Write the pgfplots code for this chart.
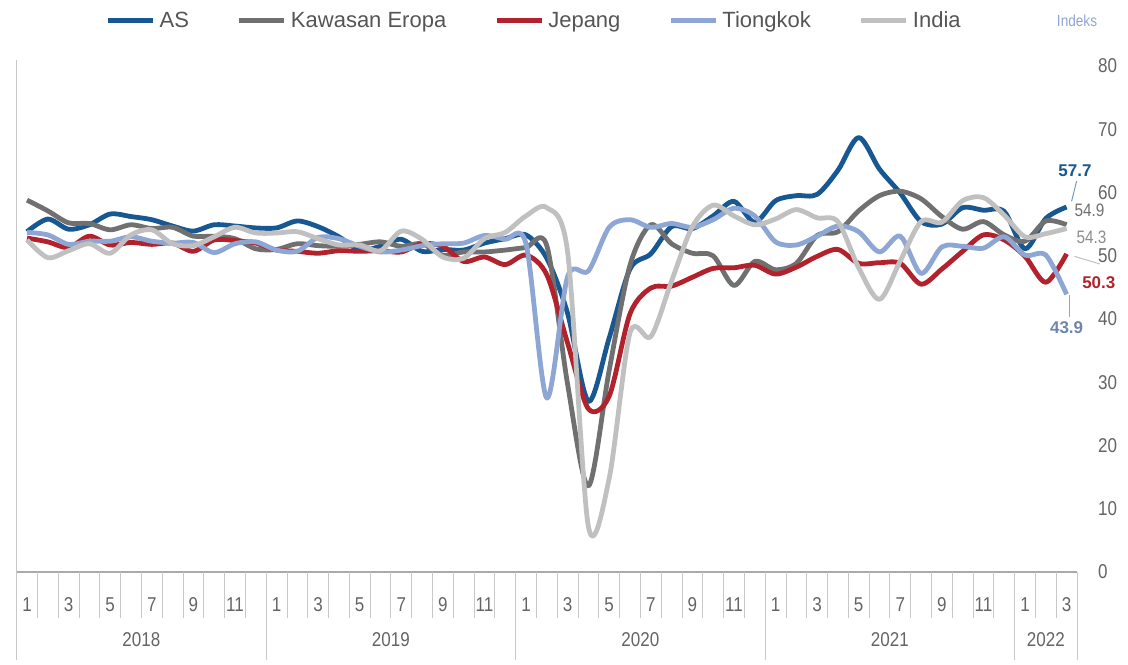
\documentclass[border=0pt]{standalone}
\usepackage{pgfplots}
\usepackage{pgfplotstable}
\pgfplotsset{compat=1.18}
\usepackage{fontspec}
\setmainfont{Liberation Sans}
\newfontfamily\narrowfont[FakeStretch=0.85]{Liberation Sans}
\definecolor{cAS}{RGB}{23,87,146}
\definecolor{cEZ}{RGB}{112,112,112}
\definecolor{cJP}{RGB}{178,34,44}
\definecolor{cCN}{RGB}{142,166,212}
\definecolor{cIN}{RGB}{192,192,192}
\definecolor{ticktext}{RGB}{100,100,100}
\definecolor{legtext}{RGB}{85,85,85}
\definecolor{sepgray}{RGB}{200,200,200}
\definecolor{axisgray}{RGB}{170,170,170}

\pgfplotstableread{
x us ez jp cn in
0 53.8 58.8 52.8 53.7 52.5
1 55.8 57.1 52.2 53.3 49.7
2 54.2 55.2 51.3 51.8 50.8
3 54.9 55.1 53.1 52.3 51.9
4 56.6 54.1 51.7 52.3 50.4
5 56.2 54.9 52.1 53.0 53.3
6 55.7 54.3 51.8 52.3 54.1
7 54.7 54.5 52.0 52.0 51.9
8 53.9 53.1 50.7 52.1 51.6
9 54.9 53.1 52.5 50.5 53.0
10 54.7 52.7 52.4 51.9 54.5
11 54.4 51.1 52.0 52.2 53.6
12 54.4 51.0 50.9 50.9 53.6
13 55.5 51.9 50.7 50.7 53.8
14 54.6 51.6 50.4 52.9 52.7
15 53.0 51.5 50.8 52.7 51.7
16 50.9 51.8 50.7 51.5 51.7
17 51.5 52.2 50.8 50.6 50.8
18 52.6 51.5 50.6 50.9 53.9
19 50.7 51.9 51.9 51.6 52.6
20 51.0 50.1 51.5 51.9 49.8
21 50.9 50.6 49.1 52.0 49.6
22 52.0 50.6 49.8 53.2 52.7
23 52.7 50.9 48.6 52.6 53.7
24 53.3 51.3 50.1 51.9 56.3
25 49.6 51.6 47.0 27.5 57.6
26 40.9 29.7 36.2 46.7 50.6
27 27.0 13.6 25.8 47.6 7.2
28 37.0 31.9 27.8 54.5 14.8
29 47.9 48.5 40.8 55.7 37.8
30 50.3 54.9 44.9 54.5 37.2
31 54.6 51.9 45.2 55.1 46.0
32 54.3 50.4 46.6 54.5 54.6
33 56.3 50.0 48.0 55.7 58.0
34 58.6 45.3 48.1 57.5 56.3
35 55.3 49.1 48.5 56.3 54.9
36 58.7 47.8 47.1 52.2 55.8
37 59.5 48.8 48.2 51.7 57.3
38 59.7 53.2 49.9 53.1 56.0
39 63.5 53.8 51.0 54.7 55.4
40 68.7 57.1 48.8 53.8 48.1
41 63.7 59.5 48.9 50.6 43.1
42 59.9 60.2 48.8 53.1 49.2
43 55.4 59.0 45.5 47.2 55.4
44 55.0 56.2 47.9 51.4 55.3
45 57.6 54.2 50.7 51.5 58.7
46 57.2 55.4 53.3 51.2 59.2
47 57.0 53.3 52.5 53.0 56.4
48 51.1 52.3 49.9 50.1 53.0
49 55.9 55.5 45.8 50.1 53.5
50 57.7 54.9 50.3 43.9 54.3
}\pmi

\begin{document}
\begin{tikzpicture}
\useasboundingbox (0,0) rectangle (564pt,332pt);
\begin{axis}[
  at={(8.3pt,46pt)}, anchor=south west,
  scale only axis, width=530.2pt, height=253pt,
  xmin=-0.5, xmax=50.5, ymin=0, ymax=80,
  axis x line*=bottom, axis y line*=right,
  x axis line style={color=axisgray, line width=0.6pt, -},
  y axis line style={draw=none},
  ytick={0,10,...,80},
  xtick={0,2,...,50},
  xticklabels={1,3,5,7,9,11,1,3,5,7,9,11,1,3,5,7,9,11,1,3,5,7,9,11,1,3},
  major tick length=0pt,
  tick style={draw=none},
  xticklabel style={anchor=center, yshift=-16.5pt, font=\narrowfont\fontsize{10}{12}\selectfont, text=ticktext},
  yticklabel style={anchor=west, xshift=7pt, font=\narrowfont\fontsize{10}{12}\selectfont, text=ticktext},
  /pgf/number format/assume math mode=true,
  clip=false,
  legend columns=5,
  legend style={at={(0.489,1.089)}, anchor=center, draw=none, fill=none,
    font=\fontsize{11}{13}\selectfont, text=legtext, inner sep=0pt,
    /tikz/every even column/.append style={column sep=22pt}},
  legend cell align=left,
  legend image code/.code={\draw[#1, line width=2.5pt, smooth=false] (0pt,0pt) -- (22.5pt,0pt);},
  every axis plot/.append style={line width=2.4pt, smooth, line join=round},
]
\addplot[cAS] table[x=x,y=us]{\pmi}; \addlegendentry{AS}
\addplot[cEZ] table[x=x,y=ez]{\pmi}; \addlegendentry{Kawasan Eropa}
\addplot[cJP] table[x=x,y=jp]{\pmi}; \addlegendentry{Jepang}
\addplot[cCN] table[x=x,y=cn]{\pmi}; \addlegendentry{Tiongkok}
\addplot[cIN] table[x=x,y=in]{\pmi}; \addlegendentry{India}

% category separators
\pgfplotsinvokeforeach{0,...,51}{
  \draw[sepgray, line width=0.4pt] (axis cs:#1-0.5,0) -- ++(0pt,-23pt);
}
\pgfplotsinvokeforeach{-0.5,11.5,23.5,35.5,47.5,50.5}{
  \draw[sepgray, line width=0.4pt] (axis cs:#1,0) -- ++(0pt,-44pt);
}
\draw[sepgray, line width=0.5pt] (axis cs:-0.5,81) -- (axis cs:-0.5,0);
\begin{scope}[font=\narrowfont\fontsize{10}{12}\selectfont, text=ticktext]
\node[yshift=-34pt] at (axis cs:5.5,0) {2018};
\node[yshift=-34pt] at (axis cs:17.5,0) {2019};
\node[yshift=-34pt] at (axis cs:29.5,0) {2020};
\node[yshift=-34pt] at (axis cs:41.5,0) {2021};
\node[yshift=-34pt] at (axis cs:49,0) {2022};
\end{scope}

% end-value annotations
\draw[cAS!60, line width=0.5pt] (axis cs:50.48,61.8) -- (axis cs:50.24,58.6);
\node[font=\bfseries\fontsize{8.5}{10}\selectfont, text=cAS] at (axis cs:50.4,63.5) {57.7};
\node[font=\narrowfont\fontsize{9}{10}\selectfont, text=cEZ] at (axis cs:51.1,57.2) {54.9};
\draw[cIN, line width=0.5pt] (axis cs:50.38,49.9) -- (axis cs:51.6,48.7);
\node[font=\narrowfont\fontsize{9}{10}\selectfont, text=cEZ!80] at (axis cs:51.2,52.9) {54.3};
\node[font=\bfseries\fontsize{8.5}{10}\selectfont, text=cJP] at (axis cs:51.55,45.7) {50.3};
\draw[cCN, line width=0.5pt] (axis cs:50.14,43.8) -- (axis cs:50.14,40.3);
\node[font=\bfseries\fontsize{8.5}{10}\selectfont, text=cCN!80!black] at (axis cs:50.0,38.7) {43.9};
\end{axis}
\node[font=\narrowfont\fontsize{8}{9}\selectfont, text=cCN] at (538.5pt,321.5pt) {Indeks};
\end{tikzpicture}
\end{document}
